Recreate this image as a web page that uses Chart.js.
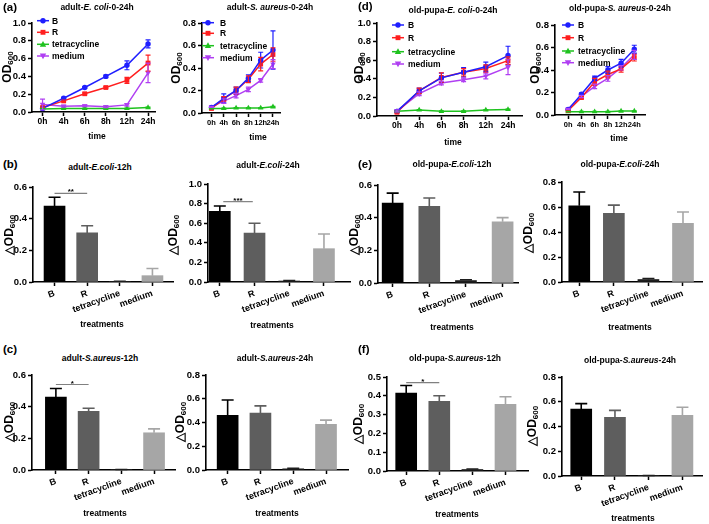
<!DOCTYPE html>
<html>
<head>
<meta charset="utf-8">
<script src="https://cdn.jsdelivr.net/npm/chart.js@4.4.0/dist/chart.umd.min.js"></script>
<style>
  body { margin: 0; background: #fff; }
  #wrap { position: relative; width: 709px; height: 524px; overflow: hidden;
    font-family: 'Liberation Sans', Arial, sans-serif; font-weight: bold; color: #000; }
  #wrap canvas { position: absolute; }
  .t { position: absolute; white-space: nowrap; transform: translate(-50%, -50%); line-height: 1; }
  .ttl { font-size: 8.5px; }
  .ax { font-size: 8.5px; }
  .lab { font-size: 11.5px; transform: translate(0, -50%); }
  .yt { font-size: 12px; transform: translate(-50%, -50%) rotate(-90deg); }
  .yt sub { font-size: 8px; vertical-align: -2px; }
</style>
</head>
<body>
<div id="wrap"></div>
<script>
// ---- data ----
const times = ["0h", "4h", "6h", "8h", "12h", "24h"];
const treatments = ["B", "R", "tetracycline", "medium"];

// growth curves: rows = B, R, tetracycline, medium
const adultEcoliOD = [
  [0.04, 0.155, 0.275, 0.40, 0.525, 0.765],
  [0.05, 0.125, 0.205, 0.275, 0.355, 0.55],
  [0.035, 0.04, 0.04, 0.04, 0.04, 0.05],
  [0.085, 0.065, 0.07, 0.06, 0.08, 0.44]
];
const adultEcoliSD = [
  [0.005, 0.01, 0.01, 0.015, 0.05, 0.045],
  [0.005, 0.01, 0.01, 0.01, 0.035, 0.09],
  [0.005, 0.005, 0.005, 0.005, 0.005, 0.005],
  [0.06, 0.01, 0.01, 0.01, 0.015, 0.11]
];
const adultSaureusOD = [
  [0.05, 0.13, 0.20, 0.31, 0.47, 0.56],
  [0.04, 0.125, 0.20, 0.30, 0.435, 0.52],
  [0.04, 0.04, 0.045, 0.045, 0.045, 0.055],
  [0.055, 0.105, 0.155, 0.21, 0.29, 0.435]
];
const adultSaureusSD = [
  [0.005, 0.04, 0.03, 0.03, 0.07, 0.17],
  [0.005, 0.02, 0.03, 0.03, 0.06, 0.06],
  [0.003, 0.003, 0.003, 0.003, 0.003, 0.005],
  [0.005, 0.02, 0.02, 0.02, 0.015, 0.04]
];
const pupaEcoliOD = [
  [0.05, 0.27, 0.41, 0.47, 0.53, 0.65],
  [0.04, 0.27, 0.415, 0.47, 0.51, 0.595],
  [0.05, 0.065, 0.05, 0.05, 0.065, 0.07],
  [0.055, 0.24, 0.355, 0.39, 0.43, 0.525]
];
const pupaEcoliSD = [
  [0.01, 0.03, 0.05, 0.05, 0.05, 0.10],
  [0.01, 0.03, 0.05, 0.04, 0.04, 0.04],
  [0.005, 0.005, 0.005, 0.005, 0.005, 0.005],
  [0.01, 0.02, 0.02, 0.02, 0.03, 0.08]
];
const pupaSaureusOD = [
  [0.05, 0.185, 0.325, 0.40, 0.46, 0.585],
  [0.04, 0.155, 0.295, 0.36, 0.41, 0.51],
  [0.03, 0.03, 0.03, 0.03, 0.035, 0.035],
  [0.055, 0.165, 0.255, 0.325, 0.42, 0.535]
];
const pupaSaureusSD = [
  [0.005, 0.01, 0.02, 0.03, 0.035, 0.035],
  [0.005, 0.01, 0.03, 0.03, 0.03, 0.03],
  [0.003, 0.003, 0.003, 0.003, 0.003, 0.003],
  [0.005, 0.01, 0.02, 0.025, 0.02, 0.04]
];

// delta OD600 bars: B, R, tetracycline, medium
const adultEcoli12 = [0.48, 0.31, 0.003, 0.04];
const adultEcoli12Err = [0.055, 0.045, 0.002, 0.045];
const adultEcoli24 = [0.72, 0.50, 0.01, 0.34];
const adultEcoli24Err = [0.055, 0.10, 0.005, 0.15];
const pupaEcoli12 = [0.49, 0.47, 0.015, 0.375];
const pupaEcoli12Err = [0.06, 0.05, 0.005, 0.025];
const pupaEcoli24 = [0.61, 0.55, 0.02, 0.47];
const pupaEcoli24Err = [0.11, 0.065, 0.008, 0.09];
const adultSaureus12 = [0.46, 0.37, 0.002, 0.235];
const adultSaureus12Err = [0.055, 0.02, 0.001, 0.025];
const adultSaureus24 = [0.46, 0.48, 0.01, 0.385];
const adultSaureus24Err = [0.13, 0.06, 0.004, 0.035];
const pupaSaureus12 = [0.415, 0.37, 0.008, 0.355];
const pupaSaureus12Err = [0.04, 0.03, 0.003, 0.04];
const pupaSaureus24 = [0.54, 0.475, 0.003, 0.49];
const pupaSaureus24Err = [0.045, 0.055, 0.001, 0.065];

// ---- styling ----
const lineColors = ["#1f1fff", "#ff1f1f", "#1fc21f", "#b03ff2"];
const lineMarks = [["circle", 0, 2.7], ["rect", 0, 3.4], ["triangle", 0, 3.2], ["triangle", 180, 3.2]];
const barColors = ["#000000", "#5e5e5e", "#1e1e1e", "#a6a6a6"];

Chart.defaults.font.family = "'Liberation Sans', Arial, sans-serif";
Chart.defaults.font.weight = "bold";
Chart.defaults.font.size = 9;
Chart.defaults.color = "#000";
Chart.defaults.animation = false;

const wrap = document.getElementById("wrap");
const PAD_T = 12, PAD_R = 14, Y_W = 40, X_H = 46;

function marker(ctx, style, rot, x, y, r) {
  ctx.beginPath();
  if (style === "circle") ctx.arc(x, y, r, 0, Math.PI * 2);
  else if (style === "rect") ctx.rect(x - r * 0.72, y - r * 0.72, r * 1.44, r * 1.44);
  else {
    const d = rot ? -1 : 1;
    ctx.moveTo(x, y - d * r * 1.05);
    ctx.lineTo(x + r, y + d * r * 0.75);
    ctx.lineTo(x - r, y + d * r * 0.75);
    ctx.closePath();
  }
  ctx.fill();
}

const errorBars = {
  id: "errorBars",
  afterDatasetsDraw(chart) {
    const ctx = chart.ctx, ys = chart.scales.y;
    chart.data.datasets.forEach((ds, di) => {
      if (!ds.errors) return;
      const meta = chart.getDatasetMeta(di);
      ctx.save();
      ctx.lineWidth = ds.errWidth;
      meta.data.forEach((el, i) => {
        const v = ds.data[i].y, e = ds.errors[i];
        ctx.strokeStyle = Array.isArray(ds.errColor) ? ds.errColor[i] : ds.errColor;
        const top = ys.getPixelForValue(v + e);
        const bot = ds.upOnly ? ys.getPixelForValue(v) : ys.getPixelForValue(Math.max(v - e, 0));
        ctx.beginPath();
        ctx.moveTo(el.x, top); ctx.lineTo(el.x, bot);
        ctx.moveTo(el.x - ds.cap, top); ctx.lineTo(el.x + ds.cap, top);
        if (!ds.upOnly) { ctx.moveTo(el.x - ds.cap, bot); ctx.lineTo(el.x + ds.cap, bot); }
        ctx.stroke();
      });
      ctx.restore();
    });
  }
};

const lineLegend = {
  id: "lineLegend",
  afterDraw(chart, args, o) {
    const ctx = chart.ctx;
    chart.data.datasets.forEach((ds, i) => {
      const y = o.ys[i];
      ctx.save();
      ctx.strokeStyle = ds.borderColor; ctx.fillStyle = ds.borderColor; ctx.lineWidth = 1.5;
      ctx.beginPath(); ctx.moveTo(o.x - 6, y); ctx.lineTo(o.x + 6, y); ctx.stroke();
      marker(ctx, ds.pointStyle, ds.pointRotation, o.x, y, ds.pointRadius);
      ctx.fillStyle = "#000";
      ctx.font = "bold 8.5px 'Liberation Sans', Arial, sans-serif";
      ctx.textBaseline = "middle";
      ctx.fillText(ds.label, o.tx, y + 0.5);
      ctx.restore();
    });
  }
};

const sigBar = {
  id: "sigBar",
  afterDraw(chart, args, o) {
    const ctx = chart.ctx, xs = chart.scales.x, ys = chart.scales.y;
    const x1 = xs.getPixelForValue(o.from), x2 = xs.getPixelForValue(o.to), y = ys.getPixelForValue(o.at);
    ctx.save();
    ctx.strokeStyle = "#808080"; ctx.lineWidth = 1.2;
    ctx.beginPath(); ctx.moveTo(x1, y); ctx.lineTo(x2, y); ctx.stroke();
    ctx.fillStyle = "#000";
    ctx.font = "bold 8px 'Liberation Sans', Arial, sans-serif";
    ctx.textAlign = "center"; ctx.textBaseline = "alphabetic";
    ctx.fillText(o.txt, (x1 + x2) / 2, y + 1);
    ctx.restore();
  }
};

function makeCanvas(rect) {
  const [l, t, r, b] = rect;
  const cv = document.createElement("canvas");
  cv.width = r - l + Y_W + PAD_R;
  cv.height = b - t + PAD_T + X_H;
  cv.style.left = (l - Y_W) + "px";
  cv.style.top = (t - PAD_T) + "px";
  wrap.appendChild(cv);
  return cv;
}

function scales(p, labels, rot, pad, xFont) {
  const grid = { display: true, drawOnChartArea: false, drawTicks: true, tickLength: 4,
    tickWidth: 1.5, tickColor: "#000", offset: false };
  const border = { display: true, color: "#000", width: 1.6 };
  return {
    x: {
      type: "linear", min: p.xr[0], max: p.xr[1], offset: false, grid, border,
      ticks: { stepSize: 1, autoSkip: false, includeBounds: false, minRotation: rot, maxRotation: rot,
        padding: pad, font: { size: xFont }, callback: v => Number.isInteger(v) ? labels[v] : "" },
      afterFit: s => { s.height = X_H; }
    },
    y: {
      type: "linear", min: 0, max: p.yMax, grid, border,
      ticks: { stepSize: p.step, padding: 2, font: { size: 9.5 }, callback: v => v.toFixed(1) },
      afterFit: s => { s.width = Y_W; }
    }
  };
}

function lineChart(p) {
  const cv = makeCanvas(p.rect);
  const ox = p.rect[0] - Y_W, oy = p.rect[1] - PAD_T;
  const datasets = treatments.map((name, k) => ({
    label: name,
    data: p.od[k].map((v, i) => ({ x: i, y: v })),
    errors: p.sd[k], errColor: lineColors[k], errWidth: 1.2, cap: 2.5,
    borderColor: lineColors[k], backgroundColor: lineColors[k],
    borderWidth: 1.5, pointStyle: lineMarks[k][0], pointRotation: lineMarks[k][1],
    pointRadius: lineMarks[k][2], pointBorderWidth: 0
  }));
  new Chart(cv, {
    type: "line",
    data: { datasets },
    options: {
      responsive: false, devicePixelRatio: 1,
      layout: { padding: { top: PAD_T, right: PAD_R, left: 0, bottom: 0 } },
      scales: scales(p, times, 0, 1, p.xFont),
      plugins: {
        legend: { display: false }, tooltip: { enabled: false },
        lineLegend: { x: p.leg.x - ox, tx: p.leg.tx - ox, ys: p.leg.ys.map(y => y - oy) }
      }
    },
    plugins: [errorBars, lineLegend]
  });
}

function barChart(p) {
  const cv = makeCanvas(p.rect);
  const plugins = [errorBars];
  const pluginOpts = { legend: { display: false }, tooltip: { enabled: false } };
  if (p.sig) { plugins.push(sigBar); pluginOpts.sigBar = p.sig; }
  new Chart(cv, {
    type: "bar",
    data: {
      datasets: [{
        data: p.vals.map((v, i) => ({ x: i, y: v })),
        errors: p.errs, errColor: barColors, errWidth: 1.6, cap: 6, upOnly: true,
        backgroundColor: barColors, borderWidth: 0, barThickness: 21
      }]
    },
    options: {
      responsive: false, devicePixelRatio: 1,
      layout: { padding: { top: PAD_T, right: PAD_R, left: 0, bottom: 0 } },
      scales: scales(p, treatments, 20, 2, 9),
      plugins: pluginOpts
    },
    plugins
  });
}

// ---- panel layout (plot rectangles in page pixels) ----
lineChart({ rect: [32, 23, 155, 112], xr: [-0.5, 5.33], yMax: 1.0, step: 0.2, xFont: 8.5, od: adultEcoliOD, sd: adultEcoliSD,
  leg: { x: 43, tx: 52, ys: [20.7, 32.3, 44.3, 56] } });
lineChart({ rect: [202, 23, 280, 113], xr: [-0.77, 5.57], yMax: 0.8, step: 0.2, xFont: 7.5, od: adultSaureusOD, sd: adultSaureusSD,
  leg: { x: 208, tx: 220, ys: [22.7, 33.3, 45.7, 57.7] } });
lineChart({ rect: [377, 23, 522, 116], xr: [-0.9, 5.63], yMax: 1.0, step: 0.2, xFont: 8.5, od: pupaEcoliOD, sd: pupaEcoliSD,
  leg: { x: 398, tx: 408, ys: [25, 37.7, 51.7, 64] } });
lineChart({ rect: [555, 25, 645, 115], xr: [-1.0, 5.81], yMax: 0.8, step: 0.2, xFont: 7.5, od: pupaSaureusOD, sd: pupaSaureusSD,
  leg: { x: 568, tx: 578, ys: [25, 37.7, 51, 62.7] } });

barChart({ rect: [33, 187, 173, 282], xr: [-0.66, 3.63], yMax: 0.6, step: 0.2, vals: adultEcoli12, errs: adultEcoli12Err,
  sig: { from: 0, to: 1, at: 0.56, txt: "**" } });
barChart({ rect: [208, 184, 350, 282], xr: [-0.34, 3.75], yMax: 1.0, step: 0.2, vals: adultEcoli24, errs: adultEcoli24Err,
  sig: { from: 0.1, to: 0.95, at: 0.82, txt: "***" } });
barChart({ rect: [378, 185, 518, 283], xr: [-0.40, 3.42], yMax: 0.6, step: 0.2, vals: pupaEcoli12, errs: pupaEcoli12Err });
barChart({ rect: [562, 182, 702, 282], xr: [-0.5, 3.55], yMax: 0.8, step: 0.2, vals: pupaEcoli24, errs: pupaEcoli24Err });
barChart({ rect: [32, 375, 175, 470], xr: [-0.73, 3.64], yMax: 0.6, step: 0.2, vals: adultSaureus12, errs: adultSaureus12Err,
  sig: { from: 0, to: 1, at: 0.54, txt: "*" } });
barChart({ rect: [206, 375, 348, 470], xr: [-0.66, 3.67], yMax: 0.8, step: 0.2, vals: adultSaureus24, errs: adultSaureus24Err });
barChart({ rect: [387, 377, 528, 471], xr: [-0.58, 3.68], yMax: 0.5, step: 0.1, vals: pupaSaureus12, errs: pupaSaureus12Err,
  sig: { from: 0, to: 1, at: 0.47, txt: "*" } });
barChart({ rect: [562, 377, 702, 476], xr: [-0.57, 3.58], yMax: 0.8, step: 0.2, vals: pupaSaureus24, errs: pupaSaureus24Err });

// ---- text: titles, axis titles, panel letters ----
function addText(html, x, y, cls) {
  const d = document.createElement("div");
  d.className = "t " + cls;
  d.innerHTML = html;
  d.style.left = x + "px";
  d.style.top = y + "px";
  wrap.appendChild(d);
}
const titles = [
  ["adult-<i>E. coli</i>-0-24h", 97, 7], ["adult-<i>S. aureus</i>-0-24h", 270, 7],
  ["old-pupa-<i>E. coli</i>-0-24h", 453, 10], ["old-pupa-<i>S. aureus</i>-0-24h", 620, 8],
  ["adult-<i>E.coli</i>-12h", 100, 167], ["adult-<i>E.coli</i>-24h", 268, 165],
  ["old-pupa-<i>E.coli</i>-12h", 452, 164], ["old-pupa-<i>E.coli</i>-24h", 620, 164],
  ["adult-<i>S.aureus</i>-12h", 100, 358], ["adult-<i>S.aureus</i>-24h", 275, 358],
  ["old-pupa-<i>S.aureus</i>-12h", 455, 358], ["old-pupa-<i>S.aureus</i>-24h", 630, 360]
];
titles.forEach(t => addText(t[0], t[1], t[2], "ttl"));

[[97, 136], [258, 137], [453, 142], [619, 138]].forEach(p => addText("time", p[0], p[1], "ax"));
[[102, 324], [272, 325], [452, 327], [630, 327], [105, 513], [277, 513], [457, 514], [633, 518]]
  .forEach(p => addText("treatments", p[0], p[1], "ax"));

[[8, 67], [177, 68], [360, 68], [536, 68]].forEach(p => addText("OD<sub>600</sub>", p[0], p[1], "yt"));
[[10, 235], [174, 235], [355, 235], [529, 233], [10, 422], [181, 422], [359, 424], [533, 426]]
  .forEach(p => addText("△OD<sub>600</sub>", p[0], p[1], "yt"));

[["(a)", 3, 8], ["(b)", 3, 165], ["(c)", 3, 350], ["(d)", 358, 7], ["(e)", 358, 165], ["(f)", 358, 350]]
  .forEach(p => addText(p[0], p[1], p[2], "lab"));
</script>
</body>
</html>
